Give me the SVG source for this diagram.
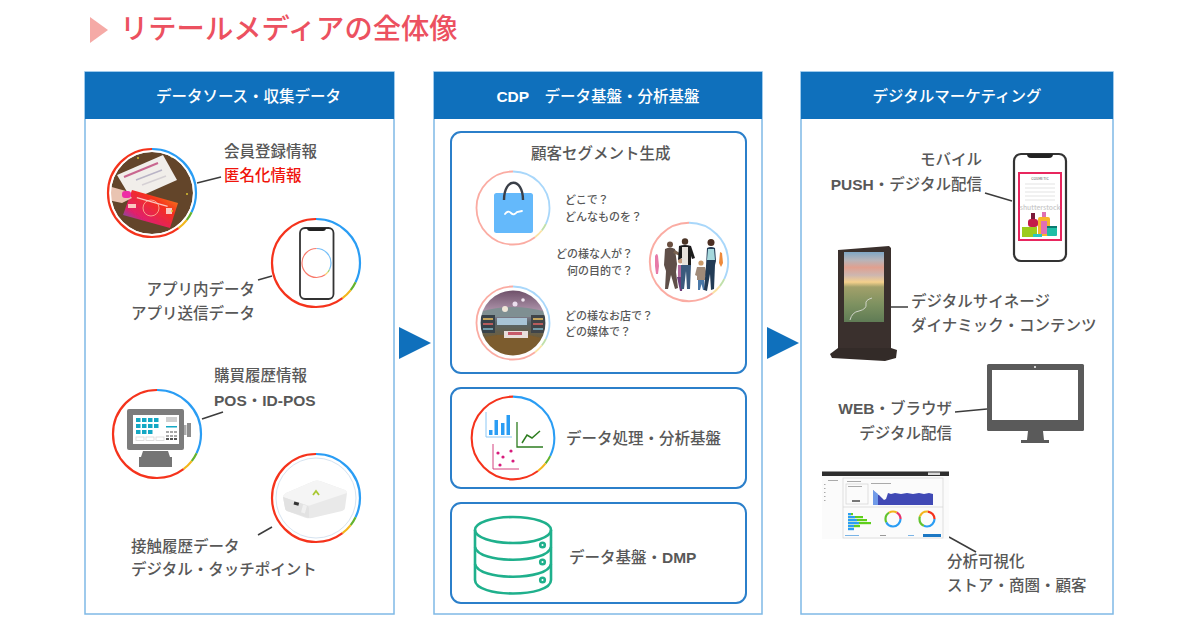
<svg xmlns="http://www.w3.org/2000/svg" width="1200" height="630" viewBox="0 0 1200 630">
<style>
text{font-family:"Noto Sans CJK JP","Noto Sans",sans-serif;font-weight:500}
.t{font-size:15.5px;fill:#585858}
.s{font-size:11px;fill:#585858}
.h{font-size:15.5px;fill:#fff;text-anchor:middle}
.e{text-anchor:end}
.l{font-family:"Liberation Sans",Arial,sans-serif;font-weight:700}
.panel{fill:#fff;stroke:#7fb9e6;stroke-width:1.5}
.head{fill:#0f70bc}
.inner{fill:#fff;stroke:#2b7fca;stroke-width:2}
.arrow{fill:#0f70bc}
#links line{stroke:#3c3c3c;stroke-width:1.5}
#links line.m{stroke:#4e4e4e;stroke-width:2}
.rb,.rg,.ry,.rr{fill:none;stroke-width:var(--rw,2.2)}
.rb{stroke:#2a9df4;stroke-dasharray:116 244}
.rg{stroke:#63b32e;stroke-dasharray:12 348;stroke-dashoffset:-116}
.ry{stroke:#f2b61c;stroke-dasharray:15 345;stroke-dashoffset:-128}
.rr{stroke:#f5331c;stroke-dasharray:217 143;stroke-dashoffset:-143}
.photo{filter:url(#soft)}
</style>
<defs>
<filter id="soft" x="-5%" y="-5%" width="110%" height="110%"><feGaussianBlur stdDeviation=".35"/></filter>
<g id="ring"><g transform="rotate(-90)">
<circle class="rb" r="44" pathLength="360"/><circle class="rg" r="44" pathLength="360"/><circle class="ry" r="44" pathLength="360"/><circle class="rr" r="44" pathLength="360"/>
</g></g>
<clipPath id="c1"><circle cx="152" cy="193" r="41"/></clipPath>
<clipPath id="c2"><circle cx="513" cy="323" r="32.5"/></clipPath>
<linearGradient id="cg" x1="1" y1="0" x2="0" y2="1"><stop offset="0" stop-color="#f7a21c"/><stop offset=".35" stop-color="#f5301e"/><stop offset=".7" stop-color="#e01f6c"/><stop offset="1" stop-color="#2a78d8"/></linearGradient>
<linearGradient id="sky" x1="0" y1="0" x2="0" y2="1"><stop offset="0" stop-color="#7fa7c6"/><stop offset=".12" stop-color="#b9b4b8"/><stop offset=".22" stop-color="#e0a08f"/><stop offset=".33" stop-color="#cdb6b0"/><stop offset=".43" stop-color="#f5d08c"/><stop offset=".5" stop-color="#a2a06a"/><stop offset=".75" stop-color="#7d9160"/><stop offset="1" stop-color="#5f7b55"/></linearGradient>
<linearGradient id="st" x1="0" y1="0" x2="0" y2="1"><stop offset="0" stop-color="#6d4f68"/><stop offset=".3" stop-color="#a98fa6"/><stop offset=".5" stop-color="#58666a"/><stop offset=".75" stop-color="#6f5a35"/><stop offset="1" stop-color="#8a6a2c"/></linearGradient>
</defs>
<rect width="1200" height="630" fill="#fff"/>

<g id="title">
<polygon points="90,17 108,30 90,43" fill="#f5aaa6"/>
<text x="120" y="39" font-size="28.300" fill="#ec5160">リテールメディアの全体像</text>
</g>

<g id="panel-source">
<rect class="panel" x="85" y="72" width="309" height="542"/>
<rect class="head" x="85" y="72" width="309" height="47"/>
<text class="h" x="248.500" y="102">データソース・収集データ</text>
</g>
<g id="panel-cdp">
<rect class="panel" x="434" y="72" width="328" height="542"/>
<rect class="head" x="434" y="72" width="328" height="47"/>
<text class="h" x="598" y="102" xml:space="preserve"><tspan class="l">CDP</tspan>　データ基盤・分析基盤</text>
</g>
<g id="panel-marketing">
<rect class="panel" x="801" y="72" width="312" height="542"/>
<rect class="head" x="801" y="72" width="312" height="47"/>
<text class="h" x="957" y="102">デジタルマーケティング</text>
</g>

<g id="flow-arrows">
<polygon class="arrow" points="399,327 431,343 399,359"/>
<polygon class="arrow" points="767,327 799,343 767,359"/>
</g>

<g id="links">
<line x1="197" y1="183" x2="221" y2="177"/>
<line x1="258" y1="280" x2="272" y2="276"/>
<line x1="202" y1="419" x2="223" y2="412"/>
<line x1="258" y1="535" x2="272" y2="527"/>
<line class="m" x1="550" y1="208" x2="562" y2="208"/>
<line class="m" x1="637" y1="262" x2="650" y2="262"/>
<line class="m" x1="549" y1="323" x2="562" y2="323"/>
<line x1="985" y1="193" x2="1012" y2="201"/>
<line x1="891" y1="307" x2="908" y2="307"/>
<line x1="955" y1="412" x2="987" y2="409"/>
<line x1="949" y1="537" x2="976" y2="552"/>
</g>

<g id="node-member">
<g clip-path="url(#c1)"><g class="photo">
<circle cx="152" cy="193" r="41" fill="#63452a"/>
<polygon points="117,175 163,155 177,180 132,200" fill="#f1eeea"/>
<line x1="124" y1="177" x2="158" y2="163" stroke="#c9668f" stroke-width="2"/>
<line x1="136" y1="180" x2="162" y2="170" stroke="#b9b4c6" stroke-width="1.500"/>
<line x1="142" y1="185" x2="166" y2="176" stroke="#d5d0d4" stroke-width="1.500"/>
<polygon points="132,190 178,203 170,228 123,215" fill="url(#cg)"/>
<circle cx="151" cy="208" r="8" fill="none" stroke="#f9a08a" stroke-width="1"/>
<g fill="#fbc7c0"><rect x="137" y="197" width="32" height="1.200" transform="rotate(16 137 197)"/><rect x="128" y="204" width="8" height="4"/><rect x="166" y="208" width="6" height="6"/></g>
<path d="M108,186 L126,191 L132,198 L122,203 L108,200Z" fill="#e9c4b2"/>
<rect x="122" y="191" width="9" height="7" rx="3" fill="#ee2fa5"/>
<circle cx="138" cy="158" r="1" fill="#d8c232"/><circle cx="172" cy="211" r="1" fill="#d8c232"/><circle cx="187" cy="194" r="1" fill="#d8c232"/><circle cx="172" cy="157" r="1" fill="#d8c232"/>
</g></g>
<use href="#ring" x="152" y="193"/>
<text class="t" x="224" y="157">会員登録情報</text>
<text class="t" x="224" y="181" style="fill:#f0140c">匿名化情報</text>
</g>

<g id="node-app">
<use href="#ring" x="316" y="263"/>
<rect x="300" y="228" width="33.500" height="71" rx="5" fill="#fff" stroke="#333" stroke-width="1.800"/>
<path d="M307,228 h19 q0,3 -3,3 h-13 q-3,0 -3,-3z" fill="#222"/>
<g transform="translate(316.500,263) scale(.33)" opacity=".65" style="--rw:3.600"><use href="#ring"/></g>
<text class="t e" x="255" y="295">アプリ内データ</text>
<text class="t e" x="255" y="319">アプリ送信データ</text>
</g>

<g id="node-pos">
<use href="#ring" x="157" y="434"/>
<rect x="127" y="409" width="57" height="41" rx="2" fill="#7c7c7c"/>
<rect x="133" y="415" width="46" height="29" fill="#fff"/>
<g fill="#14a8c4">
<rect x="136" y="418" width="4.500" height="4"/><rect x="142" y="418" width="4.500" height="4"/><rect x="148" y="418" width="4.500" height="4"/><rect x="154" y="418" width="4.500" height="4"/>
<rect x="136" y="424" width="4.500" height="4"/><rect x="142" y="424" width="4.500" height="4"/><rect x="148" y="424" width="4.500" height="4"/><rect x="154" y="424" width="4.500" height="4"/>
<rect x="136" y="430" width="4.500" height="4"/><rect x="142" y="430" width="4.500" height="4"/><rect x="148" y="430" width="4.500" height="4"/>
<rect x="166" y="426" width="11" height="1.500"/>
</g>
<rect x="166" y="417" width="11" height="5" fill="#cfcfcf"/>
<g fill="#a8a8a8"><rect x="166" y="431" width="3" height="2"/><rect x="170" y="431" width="3" height="2"/><rect x="174" y="431" width="3" height="2"/><rect x="166" y="435" width="3" height="2"/><rect x="170" y="435" width="3" height="2"/><rect x="174" y="435" width="3" height="2"/></g>
<g fill="#555"><rect x="166" y="438" width="3" height="2"/><rect x="170" y="438" width="3" height="2"/><rect x="174" y="438" width="3" height="2"/></g>
<g fill="none" stroke="#d8d8d8" stroke-width=".8"><rect x="136" y="437" width="8" height="3.500"/><rect x="146" y="437" width="8" height="3.500"/><rect x="156" y="437" width="8" height="3.500"/></g>
<rect x="184" y="425" width="2.500" height="10" fill="#aaa"/><rect x="187" y="423" width="4" height="14" fill="#8c8c8c"/>
<polygon points="143,451 168,451 170,457 172,457 172,467 139,467 139,457 141,457" fill="#757575"/>
<text class="t" x="214" y="381">購買履歴情報</text>
<text class="t" x="214" y="406"><tspan class="l">POS</tspan>・<tspan class="l">ID-POS</tspan></text>
</g>

<g id="node-touch">
<circle cx="316" cy="498" r="40" fill="#fff" stroke="#d6e3f0" stroke-width="1"/>
<use href="#ring" x="316" y="498"/>
<g class="photo">
<path d="M283,497 Q283,495 286,493 L314,481 Q317,480 320,481 L345,490 Q347,491 347,493 L345,508 Q345,510 342,511 L312,518 Q309,518.500 306,518 L287,511 Q285,510 285,508Z" fill="#e9e9e9"/>
<path d="M283,497 Q283,495 286,493 L314,481 Q317,480 320,481 L345,490 Q347,491 347,493 L311,505 Q309,506 306,505Z" fill="#f5f5f5"/>
<path d="M283,497 L306,505 Q309,506 309,508 L309,518 L287,511 Q285,510 285,508Z" fill="#e2e2e2"/>
<rect x="294" y="502" width="5" height="3" fill="#333" transform="rotate(15 296 503)"/>
<rect x="302" y="505" width="4" height="8" fill="#f0f0f0" transform="rotate(15 304 509)"/>
<path d="M313,495 l3,-4 l3,4" fill="none" stroke="#a9c832" stroke-width="1.800"/>
</g>
<text class="t" x="131" y="552">接触履歴データ</text>
<text class="t" x="131" y="575">デジタル・タッチポイント</text>
</g>

<g id="node-segment">
<rect class="inner" x="451" y="132" width="295" height="241" rx="10"/>
<text class="t" x="531" y="159">顧客セグメント生成</text>
</g>
<g id="node-where">
<use href="#ring" transform="translate(513,208) scale(.83)" opacity=".4"/>
<rect x="494" y="193" width="39" height="40" rx="2.500" fill="#64b9fb"/>
<path d="M504,200 C504,177 523,177 523,200" fill="none" stroke="#3a3f48" stroke-width="2.400"/>
<path d="M505,214 q3,-4 6,-1 q3,3 6,-1 l5,-1" fill="none" stroke="#fff" stroke-width="1.800" stroke-linecap="round"/>
<text class="s" x="565" y="204">どこで？</text>
<text class="s" x="565" y="221">どんなものを？</text>
</g>
<g id="node-who">
<use href="#ring" transform="translate(689,262) scale(.89)" opacity=".4"/>
<g class="photo">
<path d="M655,256 q2,-4 3,0 l1,10 -1,8 h-2 l-1,-8z" fill="#e77aa8"/>
<circle cx="670" cy="244.500" r="3" fill="#6b5040"/>
<path d="M665,249 q5,-3 10,0 l2,15 -1,8 2,16 -3,1 -4,-14 -3,14 -3,0 1,-18 -2,-6z" fill="#5e5048"/>
<path d="M675,250 l6,4 -1,2 -7,-3z" fill="#7a6250"/>
<rect x="678" y="265" width="5" height="12" fill="#b36a9d"/><circle cx="680.500" cy="261" r="2.500" fill="#c59a7c"/><path d="M677,277 h7 l-2,14 h-2z" fill="#6e3d7a"/>
<circle cx="685" cy="241.500" r="3.200" fill="#4b3528"/>
<path d="M679,246 q6,-2 12,0 l4,12 -3,1 -1,-3 v9 h-9 v-7 l-4,2z" fill="#1e1d1e"/>
<path d="M682,247 h6 v18 h-6z" fill="#e6e2dc"/>
<path d="M681,265 h10 l-1,24 h-3 l-1,-18 -2,18 h-3z" fill="#3a5a7d"/>
<circle cx="701" cy="263" r="2.600" fill="#c99a6a"/>
<path d="M697,267 h8 l2,8 -2,1 v4 h-8 v-4 l-2,-1z" fill="#a08a78"/>
<path d="M698,280 h6 l1,10 h-2 l-1.500,-6 -1.500,6 h-2z" fill="#4a78a8"/>
<circle cx="711" cy="242.500" r="3.500" fill="#4b2e20"/>
<path d="M707,248 q4,-2 8,0 l1,13 -1,4 -1,24 -3,1 -1,-16 -3,17 -3,-1 2,-24 z" fill="#233a55"/>
<path d="M708,249 h6 l1,11 h-8z" fill="#a6d8dc"/>
<path d="M720,252 l2,1 1,10 -2,4 -2,-4z" fill="#ee8a3a"/>
</g>
<text class="s e" x="633" y="258">どの様な人が？</text>
<text class="s e" x="633" y="275">何の目的で？</text>
</g>
<g id="node-store">
<g clip-path="url(#c2)"><g class="photo">
<rect x="480" y="290" width="66" height="66" fill="url(#st)"/>
<path d="M480,312 q33,-10 66,0 v5 h-66z" fill="#7f8f92"/>
<rect x="481" y="315" width="14" height="18" fill="#39434a"/>
<rect x="531" y="315" width="14" height="18" fill="#3f4448"/>
<g fill="#c3a45c"><rect x="483" y="318" width="10" height="2"/><rect x="533" y="318" width="10" height="2"/></g>
<g fill="#b75b5b"><rect x="483" y="323" width="10" height="2"/><rect x="533" y="323" width="10" height="2"/></g>
<g fill="#6f9aa8"><rect x="483" y="328" width="10" height="2"/><rect x="533" y="328" width="10" height="2"/></g>
<rect x="497" y="318" width="30" height="7" fill="#a8c4d6"/>
<path d="M485,337 l12,-2 32,0 12,3 -8,18 h-40z" fill="#7b5b2e"/>
<rect x="504" y="331" width="24" height="7" fill="#e8dedb"/><rect x="508" y="332" width="14" height="3" fill="#c75a6b"/>
<circle cx="515" cy="304" r="2.500" fill="#ecdfee"/><circle cx="523" cy="300" r="1.800" fill="#f3e8f2"/><circle cx="505" cy="309" r="3" fill="#f0e6d8"/>
</g></g>
<use href="#ring" transform="translate(513,323) scale(.83)" opacity=".4"/>
<text class="s" x="565" y="320">どの様なお店で？</text>
<text class="s" x="565" y="336">どの媒体で？</text>
</g>

<g id="node-analytics">
<rect class="inner" x="451" y="388" width="295" height="100" rx="10"/>
<use href="#ring" transform="translate(513,438) scale(.94)"/>
<path d="M486,412 v25 h26" fill="none" stroke="#8cc8f5" stroke-width="1"/>
<g fill="#2a9df4"><rect x="489" y="430" width="3.500" height="5"/><rect x="494.500" y="420" width="3.500" height="15"/><rect x="501" y="423" width="3.500" height="12"/><rect x="506.500" y="415" width="3.500" height="20"/></g>
<path d="M517,422 v25 h26" fill="none" stroke="#2e7d20" stroke-width="1.300"/>
<path d="M522,443 l5,-8 5,3 8,-7" fill="none" stroke="#2e7d20" stroke-width="1.500"/>
<path d="M493,444 v25 h26" fill="none" stroke="#d4407f" stroke-width="1"/>
<g fill="#d81b7c"><circle cx="498" cy="453" r="1.600"/><circle cx="511" cy="451" r="1.600"/><circle cx="503" cy="457" r="1.600"/><circle cx="513" cy="461" r="1.600"/><circle cx="500" cy="465" r="1.600"/></g>
<text class="t" x="566" y="444">データ処理・分析基盤</text>
</g>

<g id="node-dmp">
<rect class="inner" x="451" y="503" width="295" height="100" rx="10"/>
<g fill="none" stroke="#1fb08c" stroke-width="2.600">
<ellipse cx="513" cy="530" rx="38" ry="13"/>
<path d="M475,530 V580 C475,598 551,598 551,580 V530"/>
<path d="M475,547 C478,564 548,564 551,547"/>
<path d="M475,564 C478,581 548,581 551,564"/>
<circle cx="542.500" cy="545" r="2.300"/><circle cx="542.500" cy="562" r="2.300"/><circle cx="542.500" cy="580" r="2.300"/>
</g>
<text class="t" x="569" y="563">データ基盤・<tspan class="l">DMP</tspan></text>
</g>

<g id="node-mobile">
<rect x="1014" y="154" width="52" height="107" rx="7" fill="#fff" stroke="#333" stroke-width="2.200"/>
<path d="M1027,154 h26 q0,4 -4,4 h-18 q-4,0 -4,-4z" fill="#222"/>
<rect x="1019" y="173" width="42" height="67" fill="#fff" stroke="#e8265e" stroke-width="2"/>
<text x="1040" y="180" font-size="3.500" text-anchor="middle" fill="#777">COSMETIC</text>
<g stroke="#dcdcdc" stroke-width=".8"><line x1="1025" y1="184" x2="1055" y2="184"/><line x1="1025" y1="188" x2="1055" y2="188"/><line x1="1025" y1="192" x2="1055" y2="192"/><line x1="1025" y1="196" x2="1055" y2="196"/><line x1="1025" y1="200" x2="1055" y2="200"/></g>
<text x="1040" y="210" font-size="6.800" text-anchor="middle" fill="#c9c9c9">shutterstock</text>
<rect x="1022" y="227" width="15" height="10" fill="#9ccc1c"/>
<rect x="1028" y="219" width="10" height="8" rx="3" fill="#c41a4a"/><rect x="1031" y="213" width="4" height="6" fill="#7a1a3a"/>
<rect x="1038" y="217" width="12" height="19" rx="2" fill="#f7b52c"/><rect x="1041" y="221" width="6" height="13" fill="#e070b4"/><rect x="1042" y="212" width="4" height="5" fill="#e070b4"/>
<rect x="1047" y="227" width="10" height="9" rx="1" fill="#1dbfa6"/><rect x="1047" y="226" width="10" height="2" fill="#0a7a70"/>
<rect x="1033" y="234" width="9" height="3" fill="#2ac6c0"/>
<text class="t e" x="982" y="165">モバイル</text>
<text class="t e" x="982" y="190"><tspan class="l">PUSH</tspan>・デジタル配信</text>
</g>

<g id="node-signage">
<polygon points="838,250 889,246 891,248 891,349 838,349" fill="#3a302d"/>
<rect x="844" y="252" width="40" height="70" fill="url(#sky)"/>
<polygon points="838,348 891,348 897,350 896,358 885,361 832,358 830,354" fill="#332b28"/>
<path d="M850,320 q2,-8 9,-9 q8,-2 7,-7 q-1,-4 6,-6" fill="none" stroke="#d0d4c8" stroke-width="1"/>
<text class="t" x="911" y="307">デジタルサイネージ</text>
<text class="t" x="911" y="331">ダイナミック・コンテンツ</text>
</g>

<g id="node-web">
<rect x="987" y="364" width="97" height="67" rx="1.500" fill="#5a5a5a"/>
<rect x="992" y="370" width="86" height="50" fill="#fff"/>
<circle cx="1035" cy="367" r="1" fill="#fff"/>
<polygon points="1028,431 1043,431 1044,440 1049,440 1049,443 1021,443 1021,440 1027,440" fill="#5a5a5a"/>
<text class="t e" x="952" y="414"><tspan class="l">WEB</tspan>・ブラウザ</text>
<text class="t e" x="952" y="439">デジタル配信</text>
</g>

<g id="node-dashboard">
<g class="photo">
<rect x="822" y="472" width="127" height="67" fill="#fbfbfb"/>
<rect x="822" y="471.500" width="127" height="4.500" fill="#2f2f2f"/>
<rect x="928" y="472.500" width="12" height="2.500" fill="#d8d8d8"/>
<g fill="none" stroke="#d4d4d4" stroke-width=".7"><rect x="843" y="478" width="100" height="60"/><line x1="843" y1="507" x2="943" y2="507"/><rect x="846" y="484" width="22" height="20"/></g>
<g fill="#aaa"><rect x="828" y="480" width="10" height="1"/><rect x="847" y="481" width="14" height="1"/><rect x="871" y="483" width="20" height="1"/><rect x="848" y="486" width="14" height="1"/><rect x="852" y="500" width="8" height="2" fill="#777"/><rect x="824" y="484" width="1.500" height="1"/><rect x="824" y="488" width="1.500" height="1"/><rect x="824" y="492" width="1.500" height="1"/><rect x="824" y="496" width="1.500" height="1"/><rect x="824" y="500" width="1.500" height="1"/></g>
<path d="M873,490 l3,4 3,1 3,3 2,2 2,-1 2,-6 3,1 4,-1 6,1 6,-1 6,1 6,-1 5,1 5,-1 4,1 V505 H873Z" fill="#3f49b5"/>
<path d="M873,490 V505 H878 V494Z" fill="#6f9ae8"/>
<g fill="#5fcf1a"><rect x="848" y="513" width="5" height="2.200"/><rect x="848" y="516" width="15" height="2.200"/><rect x="848" y="519" width="19" height="2.200"/><rect x="848" y="522" width="23" height="2.200"/><rect x="848" y="525" width="12" height="2.200"/></g>
<g fill="#2a9df4"><rect x="848" y="513" width="3" height="2.200"/><rect x="848" y="516" width="7" height="2.200"/><rect x="848" y="519" width="9" height="2.200"/><rect x="848" y="522" width="11" height="2.200"/><rect x="848" y="525" width="6" height="2.200"/><rect x="848" y="528" width="6" height="2.200"/></g>
<g fill="none" stroke-width="2.200"><circle cx="893" cy="519" r="7.500" stroke="#2a9df4" stroke-dasharray="20 27.100"/><circle cx="893" cy="519" r="7.500" stroke="#62c32e" stroke-dasharray="11 36.100" stroke-dashoffset="-20"/><circle cx="893" cy="519" r="7.500" stroke="#f2b61c" stroke-dasharray="8 39.100" stroke-dashoffset="-31"/><circle cx="893" cy="519" r="7.500" stroke="#e8336a" stroke-dasharray="8.100 39" stroke-dashoffset="-39"/>
<circle cx="927" cy="519" r="7.500" stroke="#2a9df4" stroke-dasharray="15 32.100"/><circle cx="927" cy="519" r="7.500" stroke="#62c32e" stroke-dasharray="11 36.100" stroke-dashoffset="-15"/><circle cx="927" cy="519" r="7.500" stroke="#f2b61c" stroke-dasharray="10 37.100" stroke-dashoffset="-26"/><circle cx="927" cy="519" r="7.500" stroke="#f5331c" stroke-dasharray="11.100 36" stroke-dashoffset="-36"/></g>
<rect x="923" y="534" width="18" height="3" fill="#1b78c4"/>
<rect x="845" y="535" width="14" height="1" fill="#7ab4e6"/><rect x="880" y="535" width="6" height="1" fill="#999"/><rect x="908" y="535" width="6" height="1" fill="#7ab4e6"/>
</g>
<text class="t" x="947" y="567">分析可視化</text>
<text class="t" x="947" y="591">ストア・商圏・顧客</text>
</g>
</svg>
